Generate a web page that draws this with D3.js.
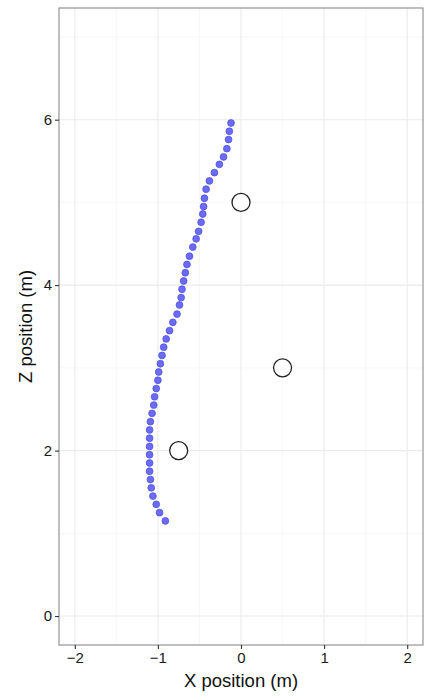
<!DOCTYPE html>
<html>
<head>
<meta charset="utf-8">
<script src="https://cdn.jsdelivr.net/npm/d3@7"></script>
<style>
  html, body { margin: 0; padding: 0; background: #fff; }
  svg { display: block; font-family: "Liberation Sans", Arial, Helvetica, sans-serif; }
</style>
</head>
<body>
<svg id="chart" width="428" height="696"></svg>
<script>
// Trajectory points (X, Z) in metres
const trailX = [-0.12,-0.14,-0.15,-0.17,-0.21,-0.26,-0.32,-0.38,-0.42,-0.44,-0.45,-0.46,-0.48,-0.51,-0.54,-0.58,-0.62,-0.65,-0.67,-0.69,-0.71,-0.72,-0.74,-0.77,-0.82,-0.86,-0.90,-0.93,-0.95,-0.97,-0.99,-1.00,-1.02,-1.04,-1.05,-1.07,-1.09,-1.10,-1.10,-1.10,-1.10,-1.10,-1.10,-1.09,-1.08,-1.06,-1.02,-0.98,-0.91];
const trailZ = [5.96,5.86,5.76,5.65,5.55,5.46,5.36,5.26,5.16,5.05,4.95,4.86,4.76,4.65,4.56,4.46,4.35,4.25,4.15,4.05,3.95,3.85,3.76,3.65,3.55,3.45,3.35,3.25,3.15,3.05,2.95,2.85,2.75,2.65,2.55,2.45,2.35,2.25,2.15,2.05,1.95,1.85,1.75,1.65,1.55,1.45,1.35,1.25,1.15];
// Obstacles
const obstacleX = [0, 0.5, -0.75];
const obstacleZ = [5, 3, 2];
// Axes
const xTicks = [-2, -1, 0, 1, 2];
const yTicks = [0, 2, 4, 6];
const xMinor = [-1.5, -0.5, 0.5, 1.5];
const yMinor = [1, 3, 5, 7];
const xLabel = "X position (m)";
const yLabel = "Z position (m)";

const svg = d3.select("#chart");
const panel = { left: 59, right: 423, top: 8, bottom: 645 };

const x = d3.scaleLinear().domain([-2.19, 2.19]).range([panel.left, panel.right]);
const y = d3.scaleLinear().domain([-0.35, 7.35]).range([panel.bottom, panel.top]);

// background
svg.append("rect").attr("x", panel.left).attr("y", panel.top)
  .attr("width", panel.right - panel.left).attr("height", panel.bottom - panel.top)
  .attr("fill", "#fff");

const grid = svg.append("g");
grid.selectAll(".xminor").data(xMinor).join("line")
  .attr("x1", d => x(d)).attr("x2", d => x(d)).attr("y1", panel.top).attr("y2", panel.bottom)
  .attr("stroke", "#f2f2f2").attr("stroke-width", 0.6);
grid.selectAll(".yminor").data(yMinor).join("line")
  .attr("y1", d => y(d)).attr("y2", d => y(d)).attr("x1", panel.left).attr("x2", panel.right)
  .attr("stroke", "#f2f2f2").attr("stroke-width", 0.6);
grid.selectAll(".xmajor").data(xTicks).join("line")
  .attr("x1", d => x(d)).attr("x2", d => x(d)).attr("y1", panel.top).attr("y2", panel.bottom)
  .attr("stroke", "#ebebeb").attr("stroke-width", 1.1);
grid.selectAll(".ymajor").data(yTicks).join("line")
  .attr("y1", d => y(d)).attr("y2", d => y(d)).attr("x1", panel.left).attr("x2", panel.right)
  .attr("stroke", "#ebebeb").attr("stroke-width", 1.1);

// obstacles
svg.append("g").selectAll("circle").data(obstacleX.map((d, i) => [d, obstacleZ[i]])).join("circle")
  .attr("cx", d => x(d[0])).attr("cy", d => y(d[1])).attr("r", 9)
  .attr("fill", "#fff").attr("stroke", "#222").attr("stroke-width", 1.3);

// trail
svg.append("g").selectAll("circle").data(trailX.map((d, i) => [d, trailZ[i]])).join("circle")
  .attr("cx", d => x(d[0])).attr("cy", d => y(d[1])).attr("r", 3.4)
  .attr("fill", "#6b6bf7").attr("stroke", "#5252e0").attr("stroke-width", 0.8);

// border
svg.append("rect").attr("x", panel.left).attr("y", panel.top)
  .attr("width", panel.right - panel.left).attr("height", panel.bottom - panel.top)
  .attr("fill", "none").attr("stroke", "#8a8a8a").attr("stroke-width", 1.1);

// axes
const xAxis = d3.axisBottom(x).tickValues(xTicks).tickSize(4).tickPadding(3).tickFormat(d3.format("d"));
const gx = svg.append("g").attr("transform", `translate(0,${panel.bottom})`).call(xAxis);
gx.select(".domain").remove();
gx.selectAll("line").attr("stroke", "#333").attr("stroke-width", 1.1);
gx.selectAll("text").attr("font-size", 15).attr("fill", "#1a1a1a")
  .attr("font-family", "Liberation Sans, Arial, sans-serif");

const yAxis = d3.axisLeft(y).tickValues(yTicks).tickSize(4).tickPadding(3).tickFormat(d3.format("d"));
const gy = svg.append("g").attr("transform", `translate(${panel.left},0)`).call(yAxis);
gy.select(".domain").remove();
gy.selectAll("line").attr("stroke", "#333").attr("stroke-width", 1.1);
gy.selectAll("text").attr("font-size", 15).attr("fill", "#1a1a1a")
  .attr("font-family", "Liberation Sans, Arial, sans-serif");

// titles
svg.append("text").attr("x", (panel.left + panel.right) / 2).attr("y", 687)
  .attr("text-anchor", "middle").attr("font-size", 18.5).attr("fill", "#111").text(xLabel);
svg.append("text").attr("transform", `translate(32,${(panel.top + panel.bottom) / 2}) rotate(-90)`)
  .attr("text-anchor", "middle").attr("font-size", 18.5).attr("fill", "#111").text(yLabel);
</script>
</body>
</html>
